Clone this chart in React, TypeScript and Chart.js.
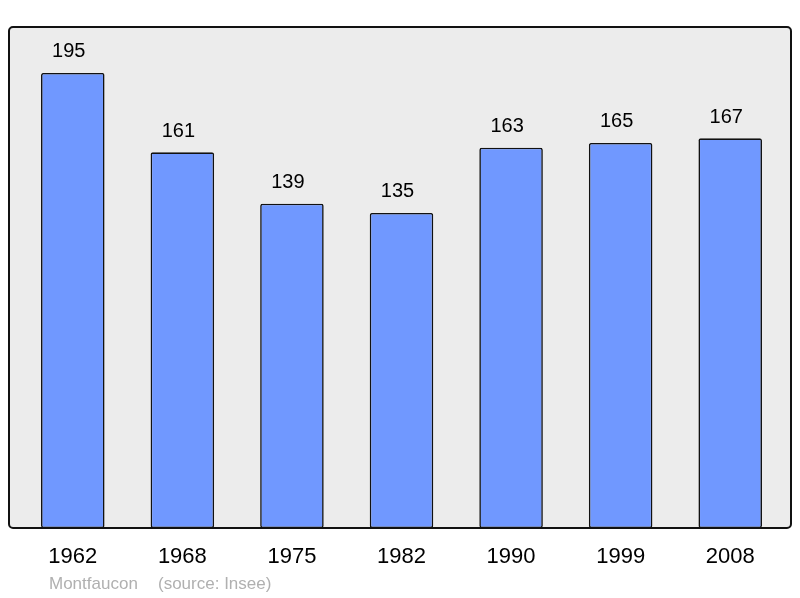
import React, { useEffect, useRef } from "react";
import { Chart, registerables } from "chart.js";

Chart.register(...registerables);

const years = ["1962", "1968", "1975", "1982", "1990", "1999", "2008"];
const population = [195, 161, 139, 135, 163, 165, 167];
const placeName = "Montfaucon";
const sourceText = "(source: Insee)";

const FONT = "'Liberation Sans', Arial, sans-serif";

const decoPlugin = {
  id: "deco",
  beforeDraw(chart: any) {
    const { ctx, chartArea } = chart;
    const x0 = chartArea.left - 9;
    const x1 = chartArea.right + 6;
    const y0 = chartArea.top;
    const y1 = chartArea.bottom;
    ctx.save();
    ctx.beginPath();
    ctx.roundRect(x0, y0, x1 - x0, y1 - y0, 4);
    ctx.fillStyle = "#ececec";
    ctx.fill();
    ctx.lineWidth = 2;
    ctx.strokeStyle = "#111";
    ctx.stroke();
    ctx.restore();
  },
  afterDatasetsDraw(chart: any) {
    const { ctx } = chart;
    const meta = chart.getDatasetMeta(0);
    ctx.save();
    ctx.font = `20px ${FONT}`;
    ctx.fillStyle = "#000";
    ctx.textAlign = "center";
    ctx.textBaseline = "middle";
    meta.data.forEach((bar: any, i: number) => {
      ctx.fillText(String(population[i]), bar.x - 4, bar.y - 21);
    });
    ctx.font = `17px ${FONT}`;
    ctx.fillStyle = "#b0b0b0";
    ctx.textAlign = "left";
    ctx.fillText(placeName, 49, 584);
    ctx.fillText(sourceText, 158, 584);
    ctx.restore();
  },
};

export default function App() {
  const ref = useRef<HTMLCanvasElement>(null);
  useEffect(() => {
    document.body.style.margin = "0";
    const chart = new Chart(ref.current!, {
      type: "bar",
      data: {
        labels: years,
        datasets: [
          {
            data: population,
            backgroundColor: "#7098ff",
            borderColor: "#111",
            borderWidth: 1.6,
            borderRadius: 2,
            borderSkipped: false,
            barPercentage: 0.58,
            categoryPercentage: 1,
          },
        ],
      },
      options: {
        responsive: false,
        animation: false,
        layout: { padding: { left: 18, right: 15, top: 27, bottom: 0 } },
        plugins: { legend: { display: false }, tooltip: { enabled: false } },
        scales: {
          x: {
            grid: { display: false, drawTicks: false },
            border: { display: false },
            ticks: { color: "#000", font: { size: 22, family: FONT }, padding: 16 },
            afterFit: (scale: any) => {
              scale.height = 70;
            },
          },
          y: {
            display: false,
            min: 0,
            max: 214.7,
          },
        },
      },
      plugins: [decoPlugin],
    });
    return () => chart.destroy();
  }, []);
  return (
    <div style={{ position: "absolute", left: 0, top: 0, width: 800, height: 598 }}>
      <canvas ref={ref} width={800} height={598} />
    </div>
  );
}
